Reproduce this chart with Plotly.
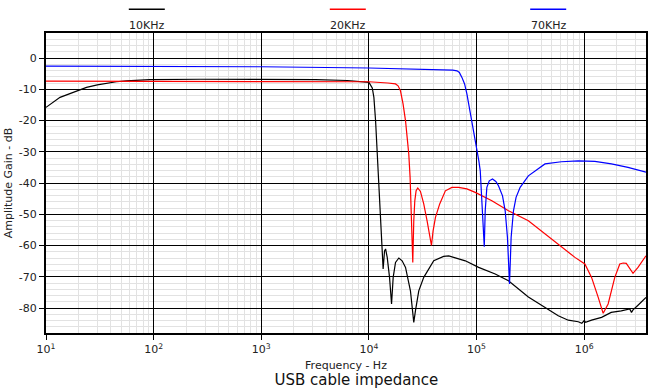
import plotly.graph_objects as go

# Frequency response of a USB cable measured with three test tones
series_names = ["10KHz", "20KHz", "70KHz"]
series_colors = ["#000000", "#ff0000", "#0000ff"]

freq_10k = [10, 13.5, 17.9, 23.8, 30, 36.5, 45, 55.8, 70, 92, 270, 1000, 3200, 6300, 9000,
            10000, 10740, 11120, 11530, 11950, 12380, 12830, 13290, 13550,
            13970, 14280, 14790, 15540, 16220, 16800, 17660, 18960, 20340,
            21880, 24300, 25550, 26100, 27040, 29040, 32300, 40000, 49400,
            55100, 78600, 104500, 149000, 197800, 302800, 432000, 574000,
            711000, 880000, 950000, 1000000, 1030000, 1170000, 1450000,
            1780000, 2210000, 2650000, 2750000, 2840000, 3160000, 3750000]
gain_10k = [-15.8, -12.6, -11.0, -9.4, -8.6, -8.0, -7.6, -7.3, -7.1, -6.9, -6.8, -6.8, -6.9, -7.2, -7.5,
            -7.8, -9.6, -12.6, -20.1, -30.7, -39.3, -48.9, -59.5, -67.5,
            -61.7, -61.1, -63.8, -70.2, -78.7, -70.2, -65.4, -64.0, -64.9,
            -67.0, -74.5, -80.9, -84.6, -80.9, -74.5, -70.2, -64.9, -63.5,
            -63.3, -64.9, -67.0, -69.1, -71.3, -76.5, -79.8, -82.5,
            -83.9, -84.4, -84.9, -84.0, -84.6, -83.9, -83.0,
            -81.4, -80.9, -80.3, -81.4, -80.6, -79.1, -76.6]

freq_20k = [10, 1000, 10000, 15000, 17660, 18660, 19630, 20750, 21880, 22650,
            23450, 24130, 24660, 25200, 25550, 26100, 26680, 27430, 28430,
            30100, 32300, 34700, 36700, 38100, 39450, 41500, 45450, 51300,
            59000, 68100, 81300, 97200, 138700, 197800, 302800, 432000,
            574000, 820000, 1014000, 1170000, 1349000, 1500000, 1668000,
            1923000, 2140000, 2300000, 2460000, 2650000, 2840000, 3160000,
            3520000, 3750000]
gain_20k = [-7.4, -7.4, -7.6, -8.0, -8.3, -8.9, -10.5, -14.7, -20.1, -25.4,
            -30.7, -38.2, -46.7, -55.3, -65.4, -52.1, -45.7, -42.5, -41.6,
            -42.7, -46.7, -52.1, -56.9, -60.0, -55.3, -51.0, -46.7, -42.5,
            -41.4, -41.4, -41.9, -43.0, -45.7, -48.9, -52.1, -56.3,
            -59.5, -63.8, -65.9, -70.2, -76.6, -81.7, -78.7,
            -70.2, -65.9, -65.6, -65.7, -67.5, -68.9, -67.0,
            -64.9, -63.3]

freq_70k = [10, 1000, 10000, 44500, 60000, 65800, 69200, 73100, 77400, 81300,
            85500, 90400, 95700, 100700, 105000, 108200, 112000, 115400,
            117900, 120300, 124600, 131200, 140600, 151000, 159800, 174200,
            184400, 193600, 202300, 209500, 220200, 232800, 254000, 302800,
            432000, 612000, 880000, 1256000, 1790000, 2550000, 3750000]
gain_70k = [-2.6, -2.8, -3.2, -3.7, -3.9, -4.1, -4.6, -6.2, -8.3, -11.5,
            -15.8, -20.1, -24.3, -28.6, -32.9, -36.1, -45.7, -54.2,
            -60.4, -48.9, -41.4, -39.3, -38.7, -39.5, -40.9, -44.1,
            -48.9, -57.4, -72.3, -57.4, -48.9, -44.6, -41.4, -37.7,
            -33.9, -33.2, -32.9, -33.1, -33.9, -35.0, -36.5]

x_tick_vals = [10, 100, 1000, 10000, 100000, 1000000]
x_tick_text = ["10<sup>1</sup>", "10<sup>2</sup>", "10<sup>3</sup>",
               "10<sup>4</sup>", "10<sup>5</sup>", "10<sup>6</sup>"]
y_tick_vals = [0, -10, -20, -30, -40, -50, -60, -70, -80]
y_tick_text = ["0", "-10", "-20", "-30", "-40", "-50", "-60", "-70", "-80"]

FONT = "DejaVu Sans"

fig = go.Figure()
for name, color, fx, gy in zip(series_names, series_colors,
                               [freq_10k, freq_20k, freq_70k],
                               [gain_10k, gain_20k, gain_70k]):
    fig.add_trace(go.Scatter(x=fx, y=gy, mode="lines", name=name,
                             line=dict(color=color, width=1.2),
                             showlegend=False))

# legend row above the plot: a short line over each label
legend_centers = [0.168, 0.503, 0.837]
for name, color, cx in zip(series_names, series_colors, legend_centers):
    fig.add_shape(type="line", xref="paper", yref="paper",
                  x0=cx - 0.03, x1=cx + 0.03, y0=1.079, y1=1.079,
                  line=dict(color=color, width=1.5))
    fig.add_annotation(text=name, xref="paper", yref="paper", x=cx, y=1.024,
                       showarrow=False, xanchor="center", yanchor="middle",
                       font=dict(family=FONT, size=11, color="#222"))

fig.update_layout(
    width=648, height=392,
    margin=dict(l=46, r=0, t=33, b=59),
    paper_bgcolor="white", plot_bgcolor="white",
    font=dict(family=FONT, size=11, color="#222"),
    title=dict(text="USB cable impedance", x=0.55, xref="container",
               y=0.03, yref="container", yanchor="middle",
               xanchor="center", font=dict(family=FONT, size=15, color="#111")),
)

fig.update_xaxes(
    type="log", range=[1, 6.574],
    tickmode="array", tickvals=x_tick_vals, ticktext=x_tick_text,
    ticks="outside", ticklen=5, tickcolor="black",
    showgrid=True, gridcolor="black", gridwidth=1,
    minor=dict(dtick="D1", showgrid=True, gridcolor="#e2e2e2", gridwidth=1),
    showline=True, linecolor="black", linewidth=2, mirror=True,
    zeroline=False,
    title=dict(text="Frequency - Hz", standoff=6, font=dict(size=11)),
    tickfont=dict(size=11),
)
fig.update_yaxes(
    range=[-88, 8],
    tickmode="array", tickvals=y_tick_vals, ticktext=y_tick_text,
    ticks="outside", ticklen=5, tickcolor="black",
    showgrid=True, gridcolor="black", gridwidth=1,
    minor=dict(tickmode="linear", tick0=0, dtick=2, showgrid=True,
               gridcolor="#e2e2e2", gridwidth=1),
    showline=True, linecolor="black", linewidth=2, mirror=True,
    zeroline=False,
    title=dict(text="Amplitude Gain - dB", standoff=4, font=dict(size=11)),
    tickfont=dict(size=11),
)

fig.write_html("out.html")
